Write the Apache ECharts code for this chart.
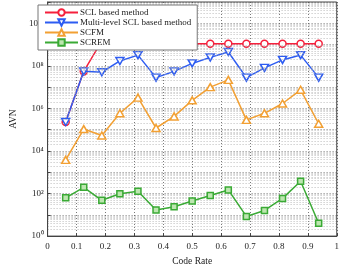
<!DOCTYPE html>
<html><head><meta charset="utf-8">
<script src="https://cdn.jsdelivr.net/npm/echarts@6/dist/echarts.min.js"></script>
<style>html,body{margin:0;padding:0;background:#fff}#c{width:342px;height:271px}</style>
</head><body><div id="c"></div>
<script>
const codeRate = [0.0625,0.125,0.1875,0.25,0.3125,0.375,0.4375,0.5,0.5625,0.625,0.6875,0.75,0.8125,0.875,0.9375];
const sclBased = [2.3e5,5.5e7,1.5e9,1.1e9,1.1e9,1.1e9,1.1e9,1.1e9,1.1e9,1.1e9,1.1e9,1.1e9,1.1e9,1.1e9,1.1e9];
const multiLevel = [2.3e5,5.5e7,5e7,1.7e8,3.2e8,2.8e7,5.5e7,1.3e8,2.5e8,4.5e8,2.8e7,8e7,1.9e8,3.2e8,2.8e7];
const scfm = [3800,1.07e5,5.3e4,5.9e5,3.2e6,1.2e5,4.2e5,2.4e6,1e7,2.2e7,2.9e5,5.9e5,1.7e6,7.5e6,1.9e5];
const screm = [63,195,48,97,127,17,24,45,81,148,8.4,16,59,380,4];
const seriesNames = ['SCL based method','Multi-level SCL based method','SCFM','SCREM'];
const xTicks = ['0','0.1','0.2','0.3','0.4','0.5','0.6','0.7','0.8','0.9','1'];
const supers = {'0':'\u2070','1':'\u00b9','2':'\u00b2','3':'\u00b3','4':'\u2074','5':'\u2075','6':'\u2076','7':'\u2077','8':'\u2078','9':'\u2079'};

const minorLines = [];
for (let n = 0; n < 11; n++) for (let k = 2; k <= 9; k++) minorLines.push({yAxis: k * Math.pow(10, n)});

const font = 'Liberation Serif';
const colors = ['#f5203c','#2d5cf2','#f2a033','#3aaa35'];
const symbols = ['circle','path://M0,0 L10,0 L5,9 Z','triangle','rect'];
const fills = ['#fff','#fff','#fff','#bde6b0'];
const sizes = [7,[8,7],[8,7],6];
const datas = [sclBased, multiLevel, scfm, screm];

const chart = echarts.init(document.getElementById('c'));
const series = datas.map((d, i) => ({
  name: seriesNames[i], type: 'line', data: codeRate.map((x, j) => [x, d[j]]),
  symbol: symbols[i], symbolSize: sizes[i], showSymbol: true, showAllSymbol: true,
  color: colors[i],
  lineStyle: {color: colors[i], width: 1.5, type: 'solid'},
  itemStyle: {color: fills[i], borderColor: colors[i], borderWidth: 1.5, borderType: 'solid'},
  emphasis: {disabled: true}, z: 3 + i
}));
series.unshift({
  name: 'minor', type: 'line', data: [], silent: true, z: 1,
  markLine: {silent: true, symbol: 'none', label: {show: false},
    lineStyle: {color: '#aaa', type: [1, 2], width: 0.8}, data: minorLines, animation: false}
});
chart.setOption({
  animation: false,
  grid: {left: 35, right: 4, top: 2, bottom: 28, show: true, borderColor: '#444', borderWidth: 1, z: 10},
  legend: {
    data: seriesNames, orient: 'vertical', left: 38, top: 5,
    backgroundColor: '#fff', borderColor: '#777', borderWidth: 1,
    padding: [3, 6, 3, 6], itemGap: 1, itemWidth: 33, itemHeight: 8,
    textStyle: {fontFamily: font, fontSize: 9, color: '#222', padding: [0, 0, 0, -3]}, z: 20
  },
  xAxis: {
    type: 'value', min: 0, max: 1, interval: 0.1,
    name: 'Code Rate', nameLocation: 'middle', nameGap: 16,
    nameTextStyle: {fontFamily: font, fontSize: 9.5, color: '#222'},
    axisLine: {lineStyle: {color: '#444'}},
    axisTick: {inside: true, length: 3, lineStyle: {color: '#444'}},
    axisLabel: {fontFamily: font, fontSize: 9, color: '#222', margin: 6,
      formatter: v => xTicks[Math.round(v * 10)]},
    splitLine: {show: true, lineStyle: {color: '#555', type: [1, 2], width: 0.8}}
  },
  yAxis: {
    type: 'log', logBase: 10, min: 1, max: 1e11, interval: 1,
    name: 'AVN', nameLocation: 'middle', nameGap: 25,
    nameTextStyle: {fontFamily: font, fontSize: 9.5, color: '#222'},
    axisLine: {lineStyle: {color: '#444'}},
    axisTick: {inside: true, length: 3, interval: 0, lineStyle: {color: '#444'}},
    axisLabel: {fontFamily: font, fontSize: 9, color: '#222', margin: 4, interval: 0, hideOverlap: false,
      formatter: v => {
        const e = Math.round(Math.log10(v));
        if (e % 2) return '';
        return '10' + String(e).split('').map(c => supers[c]).join('');
      }},
    splitLine: {show: true, interval: 0, lineStyle: {color: '#666', type: [1, 2], width: 0.8}}
  },
  series: series
});
</script></body></html>
